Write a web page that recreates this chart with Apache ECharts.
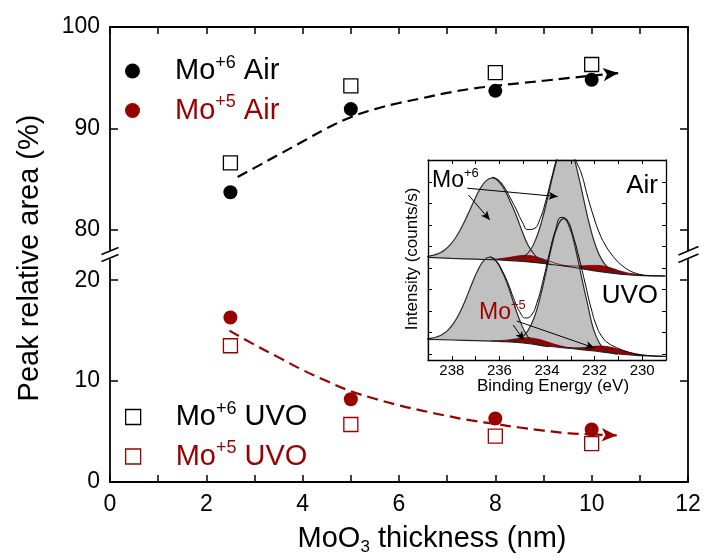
<!DOCTYPE html>
<html><head><meta charset="utf-8">
<script src="https://cdn.jsdelivr.net/npm/echarts@6/dist/echarts.min.js"></script>
<style>html,body{margin:0;padding:0;background:#fff}#c{width:704px;height:559px}</style>
</head><body><div id="c"></div>
<script>
// ---------- main chart data ----------
const thickness = [2.5, 5, 8, 10];
const mo6Air = [83.7, 91.9, 93.7, 94.8];
const mo6UVO = [86.6, 94.2, 95.5, 96.3];
const mo5Air = [16.3, 8.2, 6.3, 5.2];
const mo5UVO = [13.5, 5.7, 4.55, 3.8];
const fit6X = [2.65, 3, 3.5, 4, 4.5, 5, 5.5, 6, 6.5, 7, 7.5, 8, 8.5, 9, 9.5, 10, 10.55];
const fit6Y = [85.2, 86.1, 87.4, 88.7, 90.0, 91.1, 91.9, 92.5, 93.0, 93.5, 93.9, 94.2, 94.45, 94.7, 94.95, 95.2, 95.45];
const fit5X = [2.48, 3, 3.5, 4, 4.5, 5, 5.5, 6, 6.5, 7, 7.5, 8, 8.5, 9, 9.5, 10, 10.52];
const fit5Y = [15.0, 13.6, 12.35, 11.1, 10.0, 9.0, 8.25, 7.6, 7.05, 6.55, 6.1, 5.75, 5.4, 5.1, 4.85, 4.72, 4.62];
const yTicksTop = [80, 90, 100];
const yTicksBottom = [0, 10, 20];

// ---------- inset (XPS spectra) data ----------
const baseE = [239, 238, 237, 236, 235, 234, 233, 232, 231, 230, 229];
const airBaseV = [51.3, 50.8, 50.4, 50.0, 49.3, 48.0, 46.5, 44.6, 43.0, 42.2, 42.0];
const uvoBaseV = [10.3, 10.0, 9.7, 9.3, 8.5, 7.0, 5.8, 4.5, 3.0, 2.2, 1.8];

const airP1E = [239.05, 238.8, 238.55, 238.3, 238.05, 237.8, 237.55, 237.3, 237.05, 236.8, 236.55, 236.3, 236.05, 235.8, 235.55, 235.3, 235.05, 234.8, 234.55, 234.3, 234.05, 233.8];
const airP1V = [51.8, 52.3, 53.3, 55.0, 57.8, 61.9, 67.2, 73.5, 80.0, 85.8, 89.7, 91.1, 89.5, 85.4, 79.3, 72.5, 64.5, 57.5, 53.0, 50.0, 48.5, 47.6];
const airP2E = [235.45, 235.2, 234.95, 234.7, 234.45, 234.2, 233.95, 233.7, 233.45, 233.2, 232.95, 232.7, 232.45, 232.2, 231.95, 231.7, 231.45, 231.2, 230.95, 230.7];
const airP2V = [49.9, 50.5, 51.9, 55.0, 61.0, 70.3, 82.2, 94.8, 104.4, 107.8, 103.6, 93.2, 79.8, 67.0, 56.9, 50.2, 46.4, 44.3, 43.3, 42.7];
const airRedAE = [236.5, 236.25, 236.0, 235.75, 235.5, 235.25, 235.0, 234.75, 234.5, 234.25, 234.0, 233.75, 233.5, 233.25, 233.0];
const airRedAV = [50.3, 50.4, 50.65, 51.0, 51.45, 51.96, 52.3, 52.2, 51.65, 50.8, 49.8, 48.8, 47.9, 47.2, 46.6];
const airRedBE = [233.45, 233.2, 232.95, 232.7, 232.45, 232.2, 231.95, 231.7, 231.45, 231.2, 230.95, 230.7, 230.45, 230.2, 229.95];
const airRedBV = [47.3, 47.1, 47.0, 47.0, 47.1, 47.3, 47.3, 47.1, 46.5, 45.6, 44.6, 43.8, 43.2, 42.7, 42.3];
const airEnvE = [236.3, 236.05, 235.8, 235.55, 235.3, 235.05, 234.8, 234.55, 234.3, 234.05, 233.8, 233.55, 233.3, 233.05, 232.8, 232.55, 232.3, 232.05, 231.8, 231.55, 231.3, 231.05, 230.8, 230.55, 230.3, 230.05, 229.8, 229.55, 229.3, 229.05];
const airEnvV = [91.4, 90.1, 86.5, 81.2, 75.5, 69.3, 65.2, 65.6, 70.3, 79.6, 91.3, 102.0, 108.0, 107.0, 100.0, 93.0, 82.0, 72.0, 63.5, 57.5, 53.0, 49.5, 46.8, 44.8, 43.5, 42.7, 42.3, 42.1, 42.05, 42.0];

const uvoP1E = [239.15, 238.9, 238.65, 238.4, 238.15, 237.9, 237.65, 237.4, 237.15, 236.9, 236.65, 236.4, 236.15, 235.9, 235.65, 235.4, 235.15, 234.9, 234.65, 234.4, 234.15, 233.9];
const uvoP1V = [10.5, 10.8, 11.5, 12.8, 15.1, 18.8, 24.1, 30.8, 38.3, 45.0, 49.8, 51.5, 49.6, 44.5, 37.5, 28.5, 20.0, 13.5, 9.5, 7.8, 7.0, 6.7];
const uvoP2E = [235.55, 235.3, 235.05, 234.8, 234.55, 234.3, 234.05, 233.8, 233.55, 233.3, 233.05, 232.8, 232.55, 232.3, 232.05, 231.8, 231.55, 231.3, 231.05];
const uvoP2V = [9.3, 9.8, 11.4, 14.7, 20.9, 30.75, 43.4, 56.8, 67.0, 70.7, 66.2, 55.5, 41.5, 28.2, 15.5, 8.5, 5.0, 3.6, 2.9];
const uvoRedAE = [236.35, 236.1, 235.85, 235.6, 235.35, 235.1, 234.85, 234.6, 234.35, 234.1, 233.85, 233.6, 233.35, 233.1, 232.85];
const uvoRedAV = [9.57, 9.64, 9.79, 10.06, 10.47, 10.91, 11.09, 10.9, 10.34, 9.48, 8.51, 7.6, 6.83, 6.22, 5.73];
const uvoRedBE = [233.25, 233.0, 232.75, 232.5, 232.25, 232.0, 231.75, 231.5, 231.25, 231.0, 230.75, 230.5, 230.25, 230.0, 229.75];
const uvoRedBV = [6.23, 6.1, 6.09, 6.23, 6.52, 6.83, 6.94, 6.75, 6.19, 5.33, 4.49, 3.68, 3.01, 2.5, 2.23];
const uvoEnvE = [236.4, 236.15, 235.9, 235.65, 235.4, 235.15, 234.9, 234.65, 234.4, 234.15, 233.9, 233.65, 233.4, 233.15, 232.9, 232.65, 232.4, 232.15, 231.9, 231.65, 231.4, 231.15, 230.9, 230.65, 230.4, 230.15, 229.9, 229.65, 229.4, 229.15];
const uvoEnvV = [51.6, 49.8, 45.1, 38.7, 30.8, 24.2, 21.0, 22.5, 29.5, 40.5, 53.4, 64.7, 71.3, 70.0, 62.0, 51.0, 38.5, 26.0, 16.5, 11.0, 8.2, 6.6, 5.3, 4.2, 3.4, 2.8, 2.4, 2.15, 1.96, 1.86];

const insetTicksY = [3, 13.75, 24.5, 35.25, 46, 56.75, 67.5, 78.25, 89];
// annotation arrows (binding energy, intensity) start -> end
const arrowsMo6 = [[[237.35, 85.9], [233.55, 81.7]], [[237.3, 82.5], [236.4, 70.0]]];
const arrowsMo5 = [[[235.42, 17.5], [234.97, 9.8]], [[235.27, 19.5], [232.0, 6.0]]];

// ---------- build ----------
const F = '"Liberation Sans", Arial, Helvetica, sans-serif';
const RED = '#990000';
const pairs = (xs, ys) => xs.map((x, i) => [x, ys[i]]);

function insetLine(E, V, opt) {
  const s = {
    type: 'line', xAxisIndex: 2, yAxisIndex: 4, data: pairs(E, V), smooth: true,
    symbol: 'none', silent: true, z: 3, emphasis: { disabled: true },
    lineStyle: { color: opt.stroke || '#000', width: opt.lw == null ? 1 : opt.lw, opacity: opt.lw === 0 ? 0 : 1 }
  };
  if (opt.fill) s.areaStyle = { color: opt.fill, opacity: 1, origin: 'start' };
  return s;
}
function arrowMarks(list) {
  return {
    silent: true, symbol: ['none', 'arrow'], symbolSize: [6, 9], animation: false,
    label: { show: false }, emphasis: { disabled: true },
    lineStyle: { color: '#000', width: 1, type: 'solid' },
    data: list.map(a => [{ coord: a[0] }, { coord: a[1] }])
  };
}
function fitSeries(X, Y, color, xi, yi) {
  const n = X.length;
  return {
    type: 'line', xAxisIndex: xi, yAxisIndex: yi, silent: true, z: 2,
    data: pairs(X.slice(0, n - 1), Y.slice(0, n - 1)), smooth: true, symbol: 'none',
    lineStyle: { color: color, width: 2.2, type: [11, 6], opacity: 1 },
    markLine: {
      silent: true, symbol: ['none', 'arrow'], symbolSize: [10, 15], animation: false,
      label: { show: false }, emphasis: { disabled: true },
      lineStyle: { color: color, width: 2.2, type: [11, 6], opacity: 1 },
      data: [[{ coord: [X[n - 2], Y[n - 2]] }, { coord: [X[n - 1], Y[n - 1]] }]]
    }
  };
}

const axisLineMain = { show: true, onZero: false, lineStyle: { color: '#000', width: 1.8 } };
const tickMain = { show: true, inside: true, length: 8, lineStyle: { color: '#000', width: 1.5 } };
const legendRich = {
  sp: { width: 30 },
  k: { fontSize: 29, color: '#000', lineHeight: 34, fontFamily: F },
  ks: { fontSize: 18, color: '#000', lineHeight: 18, verticalAlign: 'top', fontFamily: F },
  r: { fontSize: 29, color: RED, lineHeight: 34, fontFamily: F },
  rs: { fontSize: 18, color: RED, lineHeight: 18, verticalAlign: 'top', fontFamily: F }
};
function legendFmt(name) {
  const parts = name.split(' ');
  const c = parts[0].indexOf('+6') >= 0 ? 'k' : 'r';
  return '{sp|}{' + c + '|Mo}{' + c + 's|' + parts[0].slice(2) + '}{' + c + '| ' + parts[1] + '}';
}
function legendOf(names, top) {
  return {
    data: names.map(n => n.indexOf('UVO') >= 0 ? { name: n, itemStyle: { borderWidth: 1.3, opacity: 1 } } : { name: n, itemStyle: { opacity: 1 } }),
    orient: 'vertical', left: 125, top: top, padding: 0, itemWidth: 15, itemHeight: 15, itemGap: 8,
    selectedMode: false, formatter: legendFmt, textStyle: { rich: legendRich }
  };
}

const option = {
  animation: false,
  backgroundColor: '#fff',
  grid: [
    { left: 110, top: 27, width: 578, height: 223, outerBoundsMode: 'none', containLabel: false },
    { left: 110, top: 260, width: 578, height: 222, outerBoundsMode: 'none', containLabel: false },
    { left: 428, top: 160, width: 238, height: 200, show: true, backgroundColor: '#fff', borderWidth: 0, outerBoundsMode: 'none', containLabel: false }
  ],
  xAxis: [
    { gridIndex: 0, type: 'value', min: 0, max: 12, interval: 1, position: 'top', axisLine: axisLineMain,
      axisTick: { show: true, inside: true, length: 7, lineStyle: { color: '#000', width: 1.5 } }, axisLabel: { show: false }, splitLine: { show: false } },
    { gridIndex: 1, type: 'value', min: 0, max: 12, interval: 1, position: 'bottom', axisLine: axisLineMain,
      axisTick: { show: true, inside: true, length: 7, lineStyle: { color: '#000', width: 1.5 } },
      axisLabel: { fontSize: 23, fontFamily: F, color: '#000', margin: 11, formatter: v => (v % 2 === 0 ? String(v) : '') },
      splitLine: { show: false } },
    { gridIndex: 2, type: 'value', min: 229, max: 239, interval: 1, inverse: true, position: 'bottom', z: 10,
      axisLine: { show: true, onZero: false, lineStyle: { color: '#000', width: 1.3 } },
      axisTick: { show: true, inside: true, length: 4, lineStyle: { color: '#000', width: 1 } },
      axisLabel: { fontSize: 15, fontFamily: F, color: '#000', margin: 3, formatter: v => (v % 2 === 0 ? String(v) : '') },
      splitLine: { show: false } },
    { gridIndex: 2, type: 'value', min: 229, max: 239, interval: 1, inverse: true, position: 'top', z: 10,
      axisLine: { show: true, onZero: false, lineStyle: { color: '#000', width: 1.3 } },
      axisTick: { show: true, inside: true, length: 4, lineStyle: { color: '#000', width: 1 } },
      axisLabel: { show: false }, splitLine: { show: false } }
  ],
  yAxis: [
    { gridIndex: 0, type: 'value', min: 78, max: 100, position: 'left', axisLine: axisLineMain,
      axisTick: Object.assign({ customValues: yTicksTop }, tickMain),
      axisLabel: { customValues: yTicksTop, fontSize: 23, fontFamily: F, color: '#000', margin: 10 }, splitLine: { show: false } },
    { gridIndex: 0, type: 'value', min: 78, max: 100, position: 'right', axisLine: axisLineMain,
      axisTick: Object.assign({ customValues: yTicksTop }, tickMain), axisLabel: { show: false }, splitLine: { show: false } },
    { gridIndex: 1, type: 'value', min: 0, max: 22, position: 'left', axisLine: axisLineMain,
      axisTick: Object.assign({ customValues: yTicksBottom }, tickMain),
      axisLabel: { customValues: yTicksBottom, fontSize: 23, fontFamily: F, color: '#000', margin: 10 }, splitLine: { show: false } },
    { gridIndex: 1, type: 'value', min: 0, max: 22, position: 'right', axisLine: axisLineMain,
      axisTick: Object.assign({ customValues: yTicksBottom }, tickMain), axisLabel: { show: false }, splitLine: { show: false } },
    { gridIndex: 2, type: 'value', min: 0, max: 100, position: 'left', z: 10,
      axisLine: { show: true, onZero: false, lineStyle: { color: '#000', width: 1.3 } },
      axisTick: { show: true, inside: true, length: 4, customValues: insetTicksY, lineStyle: { color: '#000', width: 1 } },
      axisLabel: { show: false }, splitLine: { show: false } },
    { gridIndex: 2, type: 'value', min: 0, max: 100, position: 'right', z: 10,
      axisLine: { show: true, onZero: false, lineStyle: { color: '#000', width: 1.3 } },
      axisTick: { show: true, inside: true, length: 4, customValues: insetTicksY, lineStyle: { color: '#000', width: 1 } },
      axisLabel: { show: false }, splitLine: { show: false } }
  ],
  legend: [
    legendOf(['Mo+6 Air', 'Mo+5 Air'], 54),
    legendOf(['Mo+6 UVO', 'Mo+5 UVO'], 400)
  ],
  series: [
    fitSeries(fit6X, fit6Y, '#000', 0, 0),
    fitSeries(fit5X, fit5Y, RED, 1, 2),
    { type: 'scatter', name: 'Mo+6 Air', xAxisIndex: 0, yAxisIndex: 0, data: pairs(thickness, mo6Air), symbol: 'circle', symbolSize: 14, itemStyle: { color: '#000', opacity: 1 }, z: 4 },
    { type: 'scatter', name: 'Mo+6 UVO', xAxisIndex: 0, yAxisIndex: 0, data: pairs(thickness, mo6UVO), symbol: 'rect', symbolSize: 14, itemStyle: { color: '#fff', borderColor: '#000', borderWidth: 1.3, opacity: 1 }, z: 4 },
    { type: 'scatter', name: 'Mo+5 Air', xAxisIndex: 1, yAxisIndex: 2, data: pairs(thickness, mo5Air), symbol: 'circle', symbolSize: 14, itemStyle: { color: RED, opacity: 1 }, z: 4 },
    { type: 'scatter', name: 'Mo+5 UVO', xAxisIndex: 1, yAxisIndex: 2, data: pairs(thickness, mo5UVO), symbol: 'rect', symbolSize: 14, itemStyle: { color: '#fff', borderColor: RED, borderWidth: 1.3, opacity: 1 }, z: 4 },
    // inset: Air spectrum
    insetLine(airP1E, airP1V, { fill: '#c0c0c0', stroke: '#2a2a2a', lw: 1.2 }),
    insetLine(airP2E, airP2V, { fill: '#c0c0c0', stroke: '#2a2a2a', lw: 1.2 }),
    insetLine(airRedAE, airRedAV, { fill: RED, stroke: '#5a0000', lw: 0.8 }),
    insetLine(airRedBE, airRedBV, { fill: RED, stroke: '#5a0000', lw: 0.8 }),
    insetLine(baseE, airBaseV, { fill: '#fff', lw: 0 }),
    insetLine(baseE, airBaseV, { stroke: '#222', lw: 1.2 }),
    insetLine(airEnvE, airEnvV, { stroke: '#000', lw: 1 }),
    // inset: UVO spectrum
    insetLine(uvoP1E, uvoP1V, { fill: '#c0c0c0', stroke: '#2a2a2a', lw: 1.2 }),
    insetLine(uvoP2E, uvoP2V, { fill: '#c0c0c0', stroke: '#2a2a2a', lw: 1.2 }),
    insetLine(uvoRedAE, uvoRedAV, { fill: RED, stroke: '#5a0000', lw: 0.8 }),
    insetLine(uvoRedBE, uvoRedBV, { fill: RED, stroke: '#5a0000', lw: 0.8 }),
    insetLine(baseE, uvoBaseV, { fill: '#fff', lw: 0 }),
    insetLine(baseE, uvoBaseV, { stroke: '#222', lw: 1.2 }),
    Object.assign(insetLine(uvoEnvE, uvoEnvV, { stroke: '#000', lw: 1 }), { markLine: arrowMarks(arrowsMo6.concat(arrowsMo5)) })
  ],
  graphic: [
    // axis break marks
    { type: 'line', z: 100, shape: { x1: 101.5, y1: 254.5, x2: 118.5, y2: 247.5 }, style: { stroke: '#000', lineWidth: 1.5 } },
    { type: 'line', z: 100, shape: { x1: 101.5, y1: 261.5, x2: 118.5, y2: 254.5 }, style: { stroke: '#000', lineWidth: 1.5 } },
    { type: 'line', z: 100, shape: { x1: 678.5, y1: 255, x2: 698.5, y2: 246.5 }, style: { stroke: '#000', lineWidth: 1.5 } },
    { type: 'line', z: 100, shape: { x1: 678.5, y1: 262.5, x2: 698.5, y2: 254 }, style: { stroke: '#000', lineWidth: 1.5 } },
    // axis titles
    { type: 'text', z: 100, x: 30, y: 258, rotation: Math.PI / 2,
      style: { text: 'Peak relative area (%)', fontSize: 29, fontFamily: F, fill: '#000', align: 'center', verticalAlign: 'middle' } },
    { type: 'text', z: 100, x: 432, y: 539,
      style: { text: '{a|MoO}{b|3}{a| thickness (nm)}', align: 'center', verticalAlign: 'middle',
        rich: { a: { fontSize: 29, fontFamily: F, fill: '#000', lineHeight: 34 }, b: { fontSize: 17, fontFamily: F, fill: '#000', lineHeight: 17, verticalAlign: 'bottom' } } } },
    // inset titles
    { type: 'text', z: 100, x: 553, y: 386,
      style: { text: 'Binding Energy (eV)', fontSize: 17, fontFamily: F, fill: '#000', align: 'center', verticalAlign: 'middle' } },
    { type: 'text', z: 100, x: 412, y: 259, rotation: Math.PI / 2,
      style: { text: 'Intensity (counts/s)', fontSize: 17, fontFamily: F, fill: '#000', align: 'center', verticalAlign: 'middle' } },
    // inset labels
    { type: 'text', z: 100, x: 658, y: 186,
      style: { text: 'Air', fontSize: 26, fontFamily: F, fill: '#000', align: 'right', verticalAlign: 'middle' } },
    { type: 'text', z: 100, x: 658, y: 296,
      style: { text: 'UVO', fontSize: 26, fontFamily: F, fill: '#000', align: 'right', verticalAlign: 'middle' } },
    { type: 'text', z: 100, x: 432, y: 181,
      style: { text: '{m|Mo}{s|+6}', align: 'left', verticalAlign: 'middle',
        rich: { m: { fontSize: 23, fontFamily: F, fill: '#000', lineHeight: 28 }, s: { fontSize: 13, fontFamily: F, fill: '#000', lineHeight: 13, verticalAlign: 'top' } } } },
    { type: 'text', z: 100, x: 479, y: 313,
      style: { text: '{m|Mo}{s|+5}', align: 'left', verticalAlign: 'middle',
        rich: { m: { fontSize: 23, fontFamily: F, fill: RED, lineHeight: 28 }, s: { fontSize: 13, fontFamily: F, fill: RED, lineHeight: 13, verticalAlign: 'top' } } } }
  ]
};

const chart = echarts.init(document.getElementById('c'), null, { renderer: 'canvas' });
chart.setOption(option);
</script>
</body></html>
